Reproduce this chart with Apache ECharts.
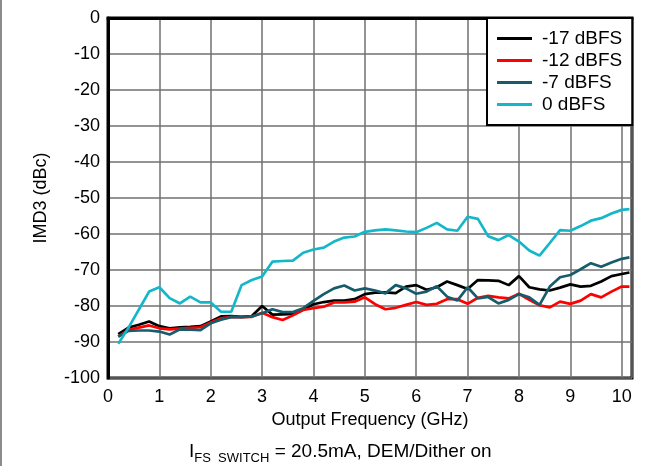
<!DOCTYPE html>
<html>
<head>
    <meta charset="utf-8">
    <title>IMD3 vs Output Frequency</title>
    <script src="https://cdn.jsdelivr.net/npm/echarts@6/dist/echarts.min.js"></script>
    <style type="text/css">
        * {
            margin: 0;
            padding: 0;
        }

        body {
            background: #fff;
            overflow: hidden;
        }
    </style>
</head>
<body>
<div id="main" style="width: 663px;height: 466px;"></div>
<script type="text/javascript">
    // frequency points (GHz)
    var freq = [0.2, 0.4, 0.6, 0.8, 1.0, 1.2, 1.4, 1.6, 1.8, 2.0,
        2.2, 2.4, 2.6, 2.8, 3.0, 3.2, 3.4, 3.6, 3.8, 4.0,
        4.2, 4.4, 4.6, 4.8, 5.0, 5.2, 5.4, 5.6, 5.8, 6.0,
        6.2, 6.4, 6.6, 6.8, 7.0, 7.2, 7.4, 7.6, 7.8, 8.0,
        8.2, 8.4, 8.6, 8.8, 9.0, 9.2, 9.4, 9.6, 9.8, 10.0, 10.15];

    var names = ['-17 dBFS', '-12 dBFS', '-7 dBFS', '0 dBFS'];

    var m17 = [-87.8, -86, -85.2, -84.3, -85.6, -86.2, -85.9, -85.8, -85.6, -84.3,
        -82.9, -82.8, -83, -82.8, -80, -82.4, -82.3, -82.2, -81, -79.5,
        -78.9, -78.5, -78.5, -78.1, -76.7, -76.3, -76.2, -76.4, -74.6, -74.2,
        -75.5, -74.8, -73.2, -74.2, -75.3, -72.8, -72.9, -73, -74.2, -71.7,
        -74.8, -75.4, -75.7, -74.9, -74, -74.6, -74.4, -73.2, -71.7, -71.1, -70.7];

    var m12 = [-88.5, -86.6, -86, -85.4, -86.2, -86.5, -86.3, -86.1, -85.9, -84.6,
        -83.4, -83, -83.1, -83, -81.9, -83.1, -83.9, -82.6, -81.1, -80.6,
        -80.2, -79, -79, -78.8, -77.6, -79.5, -80.9, -80.5, -79.7, -78.9,
        -79.7, -79.4, -78.1, -78.1, -79.4, -77.7, -77.2, -77.6, -77.9, -76.6,
        -78.3, -79.8, -80.4, -78.8, -79.4, -78.5, -76.7, -77.6, -76, -74.6, -74.6];

    var m7 = [-88.5, -86.9, -86.8, -86.8, -87.1, -87.9, -86.5, -86.6, -86.7, -84.8,
        -83.8, -83.1, -83.1, -82.9, -82, -80.9, -81.7, -81.7, -80.6, -78.6,
        -76.7, -75.1, -74.3, -75.7, -75.1, -75.7, -76.5, -74.2, -75.1, -76.6,
        -76, -74.5, -77.4, -78.5, -74.8, -77.9, -77.5, -79.3, -78.3, -76.7,
        -77.6, -79.7, -74.6, -72, -71.4, -69.8, -68.1, -69.1, -67.9, -66.9, -66.5];

    var m0 = [-90.5, -86, -81, -76, -74.8, -77.8, -79.3, -77.4, -79, -79,
        -81.6, -81.6, -74.2, -72.8, -71.8, -67.7, -67.5, -67.4, -65.2, -64.3,
        -63.8, -62.1, -61, -60.7, -59.4, -59, -58.7, -59, -59.3, -59.5,
        -58.3, -56.9, -58.7, -59.1, -55.2, -55.8, -60.6, -61.7, -60.3, -62.1,
        -64.6, -66, -62.5, -58.9, -59.1, -57.8, -56.3, -55.6, -54.3, -53.3, -53.1];

    var colors = ['#000000', '#ff0000', '#175c6b', '#14b7ca'];
    var font = 'Liberation Sans, Arial, sans-serif';

    function pairs(vals) {
        var out = [];
        for (var i = 0; i < freq.length; i++) {
            out.push([freq[i], vals[i]]);
        }
        return out;
    }

    var allData = [m17, m12, m7, m0];
    var seriesItem = [];
    for (var i = 0; i < names.length; i++) {
        seriesItem.push({
            name: names[i],
            type: 'line',
            symbol: 'none',
            smooth: false,
            color: colors[i],
            lineStyle: {
                width: 2.7,
                color: colors[i]
            },
            data: pairs(allData[i])
        });
    }

    var myChart = echarts.init(document.getElementById('main'));
    var option = {
        animation: false,
        backgroundColor: '#fff',
        title: {
            left: 184,
            top: 437,
            text: '{a|I}{s|FS  SWITCH}{a| = 20.5mA, DEM/Dither on}',
            textStyle: {
                fontWeight: 'normal',
                rich: {
                    a: {
                        fontSize: 19,
                        fontFamily: font,
                        fontWeight: 'normal',
                        color: '#000',
                        verticalAlign: 'bottom'
                    },
                    s: {
                        fontSize: 13,
                        fontFamily: font,
                        fontWeight: 'normal',
                        color: '#000',
                        verticalAlign: 'bottom',
                        padding: [0, 0, -4, 0]
                    }
                }
            }
        },
        graphic: [{
            type: 'line',
            shape: {x1: 1, y1: 0, x2: 1, y2: 466},
            style: {stroke: '#8c8c8c', lineWidth: 2}
        }],
        grid: {
            left: 108,
            top: 18,
            right: 31,
            bottom: 88,
            show: true,
            borderColor: '#000',
            borderWidth: 3
        },
        legend: {
            data: names,
            orient: 'vertical',
            left: 487,
            top: 18,
            icon: 'rect',
            itemWidth: 35,
            itemHeight: 3,
            itemGap: 3,
            padding: [11, 10, 11, 10],
            backgroundColor: '#fff',
            borderColor: '#000',
            borderWidth: 2,
            borderRadius: 0,
            selectedMode: false,
            textStyle: {
                fontSize: 19,
                fontFamily: font,
                color: '#000',
                lineHeight: 19,
                padding: [0, 0, 0, 5]
            }
        },
        xAxis: {
            type: 'value',
            min: 0,
            max: 10.2,
            interval: 1,
            name: 'Output Frequency (GHz)',
            nameLocation: 'middle',
            nameGap: 27,
            nameTextStyle: {
                fontSize: 18,
                fontFamily: font,
                color: '#000'
            },
            axisLine: {
                show: true,
                lineStyle: {color: '#000', width: 3}
            },
            axisTick: {show: false},
            axisLabel: {
                fontSize: 18,
                fontFamily: font,
                color: '#000',
                margin: 10,
                formatter: function (v) {
                    return Math.abs(v - Math.round(v)) < 1e-6 ? String(Math.round(v)) : '';
                }
            },
            splitLine: {
                show: true,
                lineStyle: {color: '#707070', width: 1.5}
            }
        },
        yAxis: {
            type: 'value',
            min: -100,
            max: 0,
            interval: 10,
            name: 'IMD3 (dBc)',
            nameLocation: 'middle',
            nameGap: 58,
            nameTextStyle: {
                fontSize: 18,
                fontFamily: font,
                color: '#000'
            },
            axisLine: {
                show: true,
                lineStyle: {color: '#000', width: 3}
            },
            axisTick: {show: false},
            axisLabel: {
                fontSize: 18,
                fontFamily: font,
                color: '#000',
                margin: 8
            },
            splitLine: {
                show: true,
                lineStyle: {color: '#707070', width: 1.5}
            }
        },
        series: seriesItem
    };
    myChart.setOption(option);
</script>
</body>
</html>
